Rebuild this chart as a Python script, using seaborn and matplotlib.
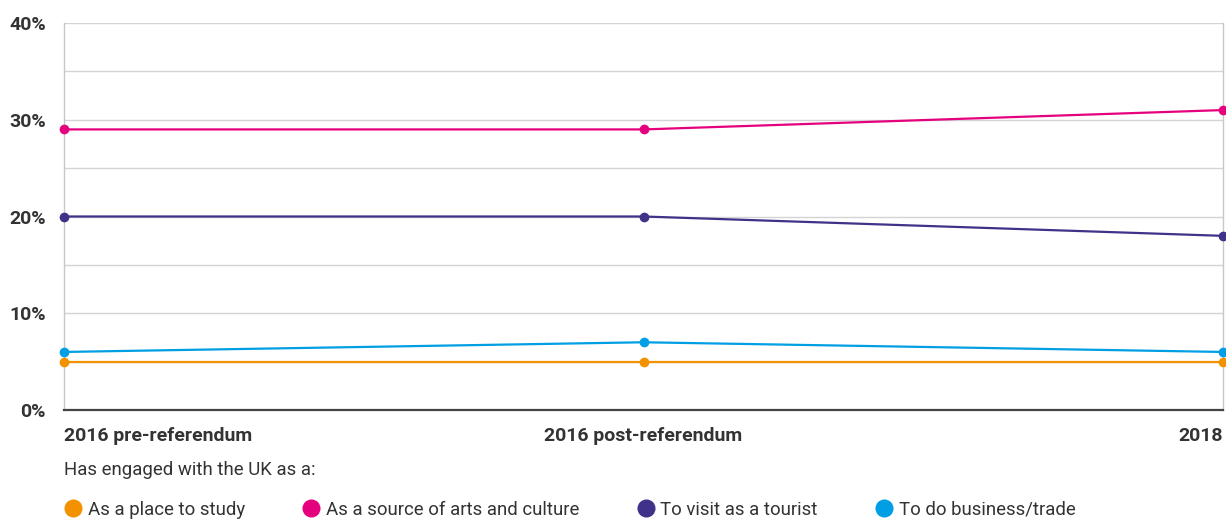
import numpy as np
import pandas as pd
import seaborn as sns
from matplotlib import pyplot as plt
from matplotlib.lines import Line2D

periods = ["2016 pre-referendum", "2016 post-referendum", "2018"]
study = [5, 5, 5]
arts = [29, 29, 31]
tourist = [20, 20, 18]
business = [6, 7, 6]

series_names = ["As a place to study", "As a source of arts and culture",
                "To visit as a tourist", "To do business/trade"]
colors = ["#F39200", "#E5007E", "#3F3288", "#009FE3"]

rows = []
for name, vals in zip(series_names, [study, arts, tourist, business]):
    for i, v in enumerate(vals):
        rows.append({"period": i, "value": v, "series": name})
df = pd.DataFrame(rows)

sns.set_style("white")
plt.rcParams["font.family"] = ["Roboto", "DejaVu Sans"]

fig = plt.figure(figsize=(12.26, 5.2), dpi=100)
ax = fig.add_axes([64 / 1226, 1 - 410 / 520, (1223 - 64) / 1226, (410 - 23) / 520])

sns.lineplot(data=df, x="period", y="value", hue="series", hue_order=series_names,
             palette=colors, marker="o", markersize=7, markeredgewidth=0,
             linewidth=1.6, ax=ax, legend=False, clip_on=False, zorder=3)

ax.set_xlim(0, 2)
ax.set_ylim(0, 40)
ax.set_yticks([0, 10, 20, 30, 40])
ax.set_yticklabels(["0%", "10%", "20%", "30%", "40%"], fontsize=14, fontweight="bold", color="#333333")
for y in np.arange(5, 41, 5):
    ax.axhline(y, color="#d4d4d4", linewidth=1, zorder=1)

ax.set_xticks([0, 1, 2])
ax.set_xticklabels(periods, fontsize=14, fontweight="bold", color="#333333")
labels = ax.get_xticklabels()
labels[0].set_horizontalalignment("left")
labels[2].set_horizontalalignment("right")
ax.tick_params(axis="both", length=0)
ax.tick_params(axis="y", pad=13)
ax.tick_params(axis="x", pad=12)
ax.set_xlabel("")
ax.set_ylabel("")

for s in ["left", "right"]:
    ax.spines[s].set_color("#c8c8c8")
    ax.spines[s].set_linewidth(1)
ax.spines["top"].set_visible(False)
ax.spines["bottom"].set_color("#444444")
ax.spines["bottom"].set_linewidth(1.6)

fig.text(64 / 1226, 1 - 470 / 520, "Has engaged with the UK as a:", fontsize=13.4,
         color="#333333", va="center", ha="left")

handles = [Line2D([0], [0], marker="o", linestyle="", markersize=13, markerfacecolor=c,
                  markeredgewidth=0) for c in colors]
fig.legend(handles, series_names, loc="center left", bbox_to_anchor=(47 / 1226, 1 - 510 / 520),
           ncol=4, frameon=False, fontsize=13.4, handletextpad=0.3, columnspacing=3.05,
           handlelength=1.0, labelcolor="#333333")

plt.savefig("out.png", dpi=100)
